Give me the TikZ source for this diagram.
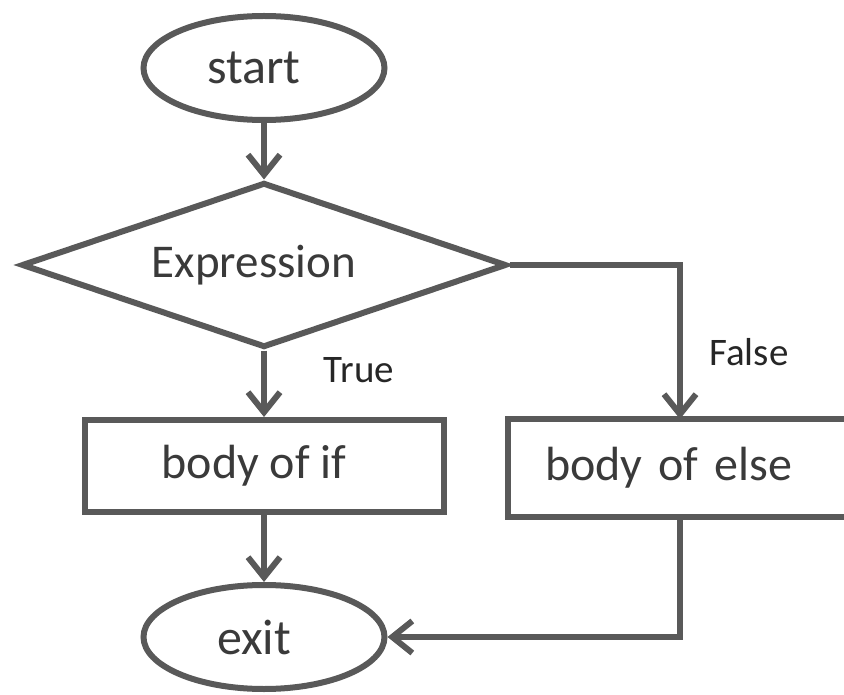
\documentclass[tikz,border=0pt]{standalone}
\usepackage{fontspec}
\setmainfont{Carlito}
\usepackage{xcolor}
\usetikzlibrary{arrows.meta,positioning,shapes.geometric}
\definecolor{linegray}{HTML}{595959}
\definecolor{textgray}{HTML}{3A3A3A}

\begin{document}
\begin{tikzpicture}[x=1pt, y=-1pt,
    % ---------- styles ----------
    term/.style={ellipse, draw=linegray, line width=6pt, inner sep=0pt,
      minimum width=241pt, minimum height=104pt, text=textgray,
      font=\fontsize{50}{58}\selectfont},
    cond/.style={diamond, draw=linegray, line width=6pt, inner sep=0pt,
      aspect=2.94, minimum width=485pt, minimum height=165pt, text=textgray,
      font=\fontsize{47}{56}\selectfont},
    bbox/.style={rectangle, draw=linegray, line width=6pt, inner sep=0pt,
      minimum height=92pt, text=textgray, font=\fontsize{48}{56}\selectfont},
    edge/.style={draw=linegray, line width=6pt},
    blabel/.style={font=\fontsize{39}{46}\selectfont, text=black!85, inner sep=0pt},
    arr/.style={-{Straight Barb[length=20pt,width=32pt]}, line width=6pt,
      draw=linegray}
]

\def\colC{264}
\def\pad{\hspace*{20pt}}

\useasboundingbox (0,0) rectangle (844,695);
\clip (0,0) rectangle (844,695);

% ====== Nodos ======
\node[term] (start) at (\colC,68) {start\pad};
\node[cond] (expr) at (\colC,265) {Expression\pad};
\node[bbox, minimum width=359pt] (ifb) at (\colC,466) {body of if\pad};
\node[bbox, draw=none, anchor=west, inner xsep=34pt, text width=360pt,
  align=left] (elseb) at (508,468) {body of else};
\node[term] (exit) at (\colC,637) {exit\pad};
\coordinate (fbend) at (680,265);

% caja de else: cortada por el borde derecho
\draw[edge] (elseb.north east) -- (elseb.north west) -- (elseb.south west)
  -- (elseb.south east);

% ====== Flechas ======
\draw[arr] (start.south) -- (expr.north);
\draw[arr] (expr.south) -- (ifb.north);
\draw[arr] (ifb.south) -- (exit.north);
\draw[arr] (expr.east) -- (fbend) -- (fbend |- elseb.north);
\draw[arr] (fbend |- elseb.south) -- (fbend |- exit.east) -- (exit.east);

% ====== Etiquetas ======
\node[blabel] (tlab) at (359,370) {True};
\node[blabel] (flab) at (749,352) {False};

\end{tikzpicture}
\end{document}
